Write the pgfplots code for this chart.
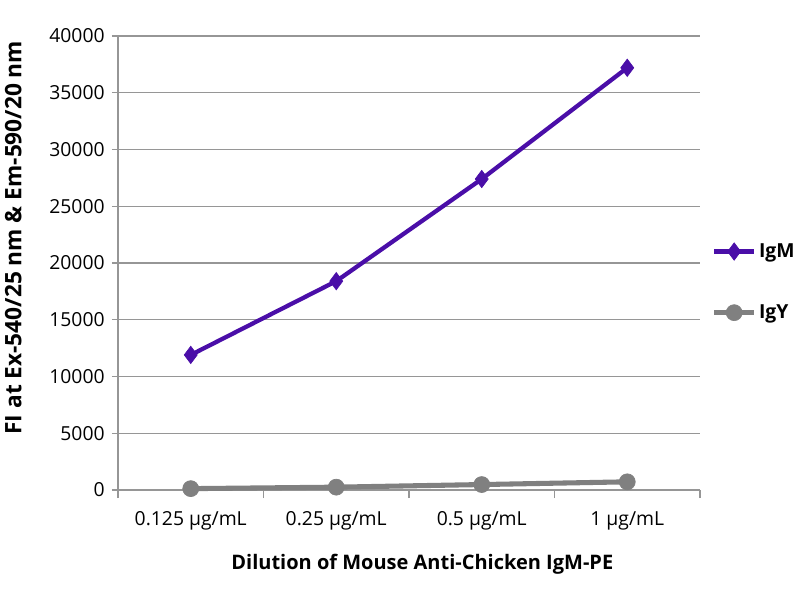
\documentclass[border=0pt]{standalone}
\usepackage{fontspec}
\setmainfont{Open Sans}
\usepackage{pgfplots}
\pgfplotsset{compat=1.18}
\definecolor{igm}{RGB}{74,14,168}
\definecolor{igy}{RGB}{128,128,128}
\definecolor{axgray}{RGB}{150,150,150}
\begin{document}
\begin{tikzpicture}[x=0.75pt,y=0.75pt]
\path[use as bounding box] (-118,-110) rectangle (682,490);
\begin{axis}[
  at={(0,0)}, anchor=south west,
  scale only axis,
  width=436.5pt, height=340.5pt,
  xmin=-0.5, xmax=3.5,
  ymin=0, ymax=40000,
  ytick={0,5000,...,40000},
  xtick={0,1,2,3},
  xticklabels={0.125 µg/mL,0.25 µg/mL,0.5 µg/mL,1 µg/mL},
  minor xtick={-0.5,0.5,1.5,2.5,3.5},
  major tick length=4.5pt,
  minor tick length=6pt,
  tick style={axgray, line width=0.8pt},
  major x tick style={draw=none},
  tick align=outside,
  axis x line*=bottom,
  axis y line*=left,
  axis line style={axgray, line width=0.8pt, -},
  ymajorgrids,
  grid style={axgray, line width=0.8pt},
  scaled y ticks=false,
  /pgf/number format/assume math mode=true,
  yticklabel={\pgfmathprintnumber[fixed,1000 sep={}]{\tick}},
  tick label style={font=\fontsize{14.5}{16}\selectfont},
  yticklabel style={xshift=-2pt},
  xticklabel style={yshift=-8pt},
  xlabel={\textbf{Dilution of Mouse Anti-Chicken IgM-PE}},
  ylabel={\textbf{FI at Ex-540/25 nm \& Em-590/20 nm}},
  xlabel style={font=\fontsize{15}{17}\selectfont, yshift=-11pt, xshift=10pt},
  ylabel style={font=\fontsize{17}{19}\selectfont, yshift=14pt, xshift=19pt},
  legend style={at={(1.02,0.555)}, anchor=north west, draw=none, fill=none,
    font=\fontsize{14.5}{16}\selectfont\bfseries, row sep=30pt, inner xsep=0pt},
  legend cell align=left,
  legend image code/.code={
    \draw[#1, mark repeat=2, mark phase=2] plot coordinates {(0cm,0cm) (0.52cm,0cm) (1.04cm,0cm)};
  },
  clip=false,
]
\addplot[igm, line width=3.2pt, mark=diamond*, mark size=6.5pt, mark options={solid, line width=0.5pt, fill=igm}]
  coordinates {(0,11900) (1,18400) (2,27400) (3,37200)};
\addlegendentry{IgM}
\addplot[igy, line width=3.8pt, mark=*, mark size=6pt, mark options={solid, line width=0.5pt, fill=igy}]
  coordinates {(0,120) (1,250) (2,480) (3,720)};
\addlegendentry{IgY}
\end{axis}
\end{tikzpicture}
\end{document}
